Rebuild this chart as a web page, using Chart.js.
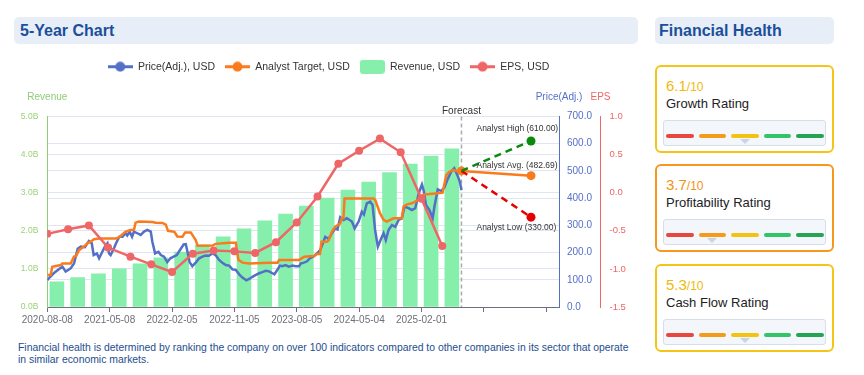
<!DOCTYPE html>
<html>
<head>
<meta charset="utf-8">
<script src="https://cdn.jsdelivr.net/npm/chart.js@4.4.1/dist/chart.umd.min.js"></script>
<style>
body{margin:0;width:864px;height:375px;background:#fff;position:relative;overflow:hidden;font-family:'Liberation Sans',Arial,sans-serif;}
.hdr{position:absolute;top:17px;height:27px;background:#e7eef7;border-radius:5px;color:#1b4f9c;font-weight:bold;font-size:16px;line-height:27px;box-sizing:border-box;}
#chartBox{position:absolute;left:0;top:50px;width:640px;height:290px;}
.note{position:absolute;left:18px;top:342px;font-size:10.4px;line-height:12px;color:#1d4d8f;white-space:nowrap;}
.card{position:absolute;left:655px;width:179px;height:88px;box-sizing:border-box;border:2px solid #f6c416;border-radius:6px;background:#fff;}
.score{position:absolute;left:9px;top:10px;font-size:15px;line-height:18px;}
.score small{font-size:12px;}
.name{position:absolute;left:9px;top:29px;font-size:13px;line-height:16px;color:#222;}
.meter{position:absolute;left:6px;top:53px;width:163px;height:26px;box-sizing:border-box;background:#f3f6fa;border:1px solid #d5deea;border-radius:3px;}
.seg{position:absolute;top:13px;width:27.5px;height:4px;border-radius:2px;}
.ptr{position:absolute;top:18px;width:0;height:0;border-left:5px solid transparent;border-right:5px solid transparent;border-top:5px solid #c9d4e5;}
</style>
</head>
<body>
<div class="hdr" style="left:14px;width:624px;padding-left:6px;">5-Year Chart</div>
<div class="hdr" style="left:655px;width:179px;padding-left:4px;">Financial Health</div>

<div id="chartBox"><canvas id="ct-chart" width="640" height="290"></canvas></div>

<div class="note">Financial health is determined by ranking the company on over 100 indicators compared to other companies in its sector that operate<br>in similar economic markets.</div>

<div class="card" style="top:65px;border-color:#f6c416;">
  <div class="score" style="color:#f0b90b;">6.1<small>/10</small></div>
  <div class="name">Growth Rating</div>
  <div class="meter">
    <div class="seg" style="left:2px;background:#e8473f"></div>
    <div class="seg" style="left:34.5px;background:#f39c1c"></div>
    <div class="seg" style="left:67px;background:#f2c313"></div>
    <div class="seg" style="left:99.5px;background:#33c46b"></div>
    <div class="seg" style="left:132px;background:#27a356"></div>
    <div class="ptr" style="left:75.5px"></div>
  </div>
</div>

<div class="card" style="top:164px;border-color:#f7981d;">
  <div class="score" style="color:#f39214;">3.7<small>/10</small></div>
  <div class="name">Profitability Rating</div>
  <div class="meter">
    <div class="seg" style="left:2px;background:#e8473f"></div>
    <div class="seg" style="left:34.5px;background:#f39c1c"></div>
    <div class="seg" style="left:67px;background:#f2c313"></div>
    <div class="seg" style="left:99.5px;background:#33c46b"></div>
    <div class="seg" style="left:132px;background:#27a356"></div>
    <div class="ptr" style="left:43px"></div>
  </div>
</div>

<div class="card" style="top:264px;border-color:#f6c416;">
  <div class="score" style="color:#f0b90b;">5.3<small>/10</small></div>
  <div class="name">Cash Flow Rating</div>
  <div class="meter">
    <div class="seg" style="left:2px;background:#e8473f"></div>
    <div class="seg" style="left:34.5px;background:#f39c1c"></div>
    <div class="seg" style="left:67px;background:#f2c313"></div>
    <div class="seg" style="left:99.5px;background:#33c46b"></div>
    <div class="seg" style="left:132px;background:#27a356"></div>
    <div class="ptr" style="left:75.5px"></div>
  </div>
</div>

<script>
// x values are weeks since 2020-08-08
const startDate = Date.UTC(2020, 7, 8);
const tickStep = 39;          // 39 weeks between labels
const lastLabelWeek = 234;    // 2025-02-01

// price (adj.), USD  [week, value]
const priceSeries = [
  [0,99],[2,112],[4,124],[6,133],[8,142],[9.5,148],[11.5,130],[13,136],[14.6,142],[16.7,160],
  [18,190],[19,214],[21,222],[23.5,220],[26,242],[27.8,234],[29,191],[31,197],[32.4,179],[34.4,203],
  [36,222],[37.6,234],[38.6,197],[39.6,191],[41.7,216],[43,234],[45,258],[47,258],[49,271],[50,263],
  [51.5,277],[53,258],[54.2,277],[56.3,271],[58.4,265],[60.5,277],[62.6,283],[64.7,277],[65.7,240],[67.4,197],
  [69.5,203],[71,191],[73,185],[75,165],[77,179],[79,185],[81,191],[83.4,213],[85.3,230],[86.6,231],
  [87.6,205],[89,165],[90.7,150],[92.8,163],[95,179],[97,185],[99,189],[101,188],[103.3,197],[105.3,190],
  [107.4,173],[109.5,163],[111.6,154],[113.7,152],[115.8,138],[117.9,136],[120,120],[122,108],[124.5,98],[126.5,104],
  [128.3,111],[130.4,118],[132.5,124],[134.5,128],[136.6,133],[138.7,131],[140.8,124],[142,120],[144,138],[145.5,152],
  [147,150],[149,154],[151,148],[153.3,152],[155.4,150],[157.5,150],[158.5,160],[160,162],[162.3,167],[164.4,180],
  [166.5,186],[168.6,197],[170.7,209],[172.7,240],[173.8,258],[176,250],[178,271],[180.1,289],[181.5,285],[183.2,330],
  [185.3,320],[187.3,326],[190.5,314],[192.2,289],[194.7,314],[196.7,350],[198,340],[199.8,381],[201.9,387],[203.4,375],
  [205,283],[206.7,222],[208.8,252],[210.3,271],[211.7,246],[213.4,283],[215.5,301],[217.6,295],[219.7,320],[221.7,326],
  [223.4,369],[225.9,363],[228,356],[230.1,363],[232.4,420],[234.3,450],[235.5,425],[236.8,375],[239,356],[241,326],
  [242.1,369],[244.2,432],[246.3,426],[248.4,440],[250.4,470],[252.6,497],[254.5,510],[256.6,482],[258,460],[259,430]
];

// analyst target, USD  [week, value]
const targetSeries = [
  [0,118],[2.1,118],[3.1,148],[8.4,154],[9.4,160],[14.6,160],[16.7,185],[18,187],[19.8,209],[22.9,222],
  [25,234],[27.1,240],[29.2,249],[32.4,252],[42.8,252],[44.9,256],[46.6,265],[49,277],[52.2,283],[54.2,284],
  [55.2,310],[57.4,314],[65.7,312],[67.8,310],[72,309],[74.1,303],[75.5,280],[79.5,276],[81.3,259],[84.5,258],
  [86.2,274],[89.7,274],[92.8,246],[94,225],[103.3,226],[105.3,232],[113.7,236],[117.9,236],[119.5,173],[122.1,163],
  [126.2,160],[138.7,163],[144,163],[145,173],[157.5,173],[160.7,185],[166.9,187],[168.6,195],[170.5,195],[171.5,240],
  [174.8,240],[176,245],[178,277],[180.1,295],[183.2,307],[184.2,326],[185.2,326],[185.9,399],[204,399],[205.1,393],
  [208.1,344],[210.3,320],[212.3,314],[214.4,320],[216.5,326],[221.7,326],[222.8,369],[224.9,377],[228,381],[230.1,387],
  [232.2,396],[234.7,412],[239,415],[244.1,418],[247.2,420],[249.5,485],[251.5,497],[253.6,503],[256.6,500],[259,500]
];

// revenue, billions USD (quarterly)
const revenueWeeks = [6,19,32,45,58,71,84,97,110,123,136,149,162,175,188,201,214,227,240,253];
const revenueValues = [0.66,0.77,0.87,1.0,1.13,1.29,1.44,1.63,1.84,2.05,2.26,2.44,2.65,2.86,3.07,3.28,3.53,3.75,3.96,4.15];

// EPS, USD (quarterly)
const epsWeeks = [0,13,26,38,52,65,78,91,104,117,130,143,156,169,182,195,208,221,234,247];
const epsValues = [-0.54,-0.48,-0.43,-0.72,-0.84,-0.94,-1.04,-0.80,-0.76,-0.77,-0.79,-0.65,-0.39,-0.05,0.38,0.55,0.71,0.53,-0.08,-0.70];

// forecast
const forecastWeeks = [259, 302.5];
const forecastStart = 500;
const analystHigh = 610.00;
const analystAvg = 482.69;
const analystLow = 330.00;

const C_PRICE = '#5470c6', C_TARGET = '#fa7a1e', C_REV = '#86efac', C_EPS = '#ee6666';

function weekLabel(w) {
  return new Date(startDate + w * 7 * 86400000).toISOString().slice(0, 10);
}
function pts(xs, ys) { return xs.map((x, i) => ({x: x, y: ys[i]})); }
function pairs(arr) { return arr.map(p => ({x: p[0], y: p[1]})); }

function lineIcon(color) {
  const c = document.createElement('canvas');
  c.width = 25; c.height = 11;
  const g = c.getContext('2d');
  g.strokeStyle = color; g.lineWidth = 3;
  g.beginPath(); g.moveTo(0, 5.5); g.lineTo(25, 5.5); g.stroke();
  g.fillStyle = color;
  g.beginPath(); g.arc(12.5, 5.5, 5, 0, Math.PI * 2); g.fill();
  return c;
}
function boxIcon(color) {
  const c = document.createElement('canvas');
  c.width = 25; c.height = 14;
  const g = c.getContext('2d');
  g.fillStyle = color;
  g.beginPath(); g.roundRect(0, 0, 25, 14, 3); g.fill();
  return c;
}
const icons = [lineIcon(C_PRICE), lineIcon(C_TARGET), boxIcon(C_REV), lineIcon(C_EPS)];

const overlay = {
  id: 'overlay',
  afterInit(chart) {
    const lg = chart.legend;
    const fit = lg.fit;
    lg.fit = function () { fit.call(this); this.height = 65; };
  },
  beforeDatasetsDraw(chart) {
    const ctx = chart.ctx, a = chart.chartArea;
    const x = chart.scales.x.getPixelForValue(forecastWeeks[0]);
    ctx.save();
    ctx.strokeStyle = '#aaaaaa'; ctx.lineWidth = 1.5; ctx.setLineDash([4, 3]);
    ctx.beginPath(); ctx.moveTo(x, a.top); ctx.lineTo(x, a.bottom); ctx.stroke();
    ctx.restore();
  },
  afterDraw(chart) {
    const ctx = chart.ctx, a = chart.chartArea, s = chart.scales;
    ctx.save();
    ctx.textBaseline = 'middle';
    ctx.textAlign = 'center';
    ctx.font = '10px "Liberation Sans", Arial, sans-serif';
    const ty = a.top - 19.5;
    ctx.fillStyle = '#91cc75'; ctx.fillText('Revenue', s.yRev.right, ty);
    ctx.fillStyle = C_PRICE; ctx.fillText('Price(Adj.)', s.yPrice.left, ty);
    ctx.fillStyle = C_EPS; ctx.fillText('EPS', s.yEps.left, ty);
    const fx = s.x.getPixelForValue(forecastWeeks[0]);
    ctx.fillStyle = '#333'; ctx.fillText('Forecast', fx, a.top - 5);
    ctx.textAlign = 'left';
    ctx.font = '8.5px "Liberation Sans", Arial, sans-serif';
    const tx = fx + 15;
    ctx.fillText('Analyst High (' + analystHigh.toFixed(2) + ')', tx, s.yPrice.getPixelForValue(analystHigh) - 12);
    ctx.fillText('Analyst Avg. (' + analystAvg.toFixed(2) + ')', tx, s.yPrice.getPixelForValue(analystAvg) - 10);
    ctx.fillText('Analyst Low (' + analystLow.toFixed(2) + ')', tx, s.yPrice.getPixelForValue(analystLow) + 10);
    ctx.restore();
  }
};

Chart.defaults.font.family = '"Liberation Sans", Arial, sans-serif';

new Chart(document.getElementById('ct-chart'), {
  data: {
    datasets: [
      { type: 'line', label: 'Price(Adj.), USD', data: pairs(priceSeries), yAxisID: 'yPrice',
        borderColor: C_PRICE, backgroundColor: C_PRICE, borderWidth: 2.5, pointRadius: 0, tension: 0, order: 3 },
      { type: 'line', label: 'Analyst Target, USD', data: pairs(targetSeries), yAxisID: 'yPrice',
        borderColor: C_TARGET, backgroundColor: C_TARGET, borderWidth: 2.5, pointRadius: 0, tension: 0, order: 2 },
      { type: 'bar', label: 'Revenue, USD', data: pts(revenueWeeks, revenueValues), yAxisID: 'yRev',
        backgroundColor: C_REV, borderWidth: 0, barThickness: 14, order: 5 },
      { type: 'line', label: 'EPS, USD', data: pts(epsWeeks, epsValues), yAxisID: 'yEps',
        borderColor: C_EPS, backgroundColor: C_EPS, borderWidth: 2.5, pointRadius: 4, pointBorderWidth: 0, tension: 0, order: 1 },
      { type: 'line', label: 'high', data: pts(forecastWeeks, [forecastStart, analystHigh]), yAxisID: 'yPrice',
        borderColor: '#0a8a0a', backgroundColor: '#0a8a0a', borderWidth: 2.5, borderDash: [7, 5],
        pointRadius: [0, 4.5], pointBorderWidth: 0, order: 0 },
      { type: 'line', label: 'low', data: pts(forecastWeeks, [forecastStart, analystLow]), yAxisID: 'yPrice',
        borderColor: '#e60000', backgroundColor: '#e60000', borderWidth: 2.5, borderDash: [7, 5],
        pointRadius: [0, 4.5], pointBorderWidth: 0, order: 0 },
      { type: 'line', label: 'avg', data: pts(forecastWeeks, [forecastStart, analystAvg]), yAxisID: 'yPrice',
        borderColor: C_TARGET, backgroundColor: C_TARGET, borderWidth: 2.5,
        pointRadius: 4.5, pointBorderWidth: 0, order: 0 }
    ]
  },
  options: {
    responsive: false,
    animation: false,
    devicePixelRatio: 1,
    layout: { padding: { top: 1.5, left: 17, right: 0, bottom: 13 } },
    plugins: {
      tooltip: { enabled: false },
      legend: {
        position: 'top',
        labels: {
          usePointStyle: true, pointStyleWidth: 25, padding: 10, color: '#333',
          font: { size: 10.5 },
          generateLabels(chart) {
            const items = Chart.defaults.plugins.legend.labels.generateLabels(chart);
            return items.filter(i => i.datasetIndex < 4)
              .sort((a, b) => a.datasetIndex - b.datasetIndex)
              .map(i => { i.pointStyle = icons[i.datasetIndex]; return i; });
          }
        }
      }
    },
    scales: {
      x: {
        type: 'linear', min: 0, max: 320, offset: false,
        afterFit(s) { s.height = 20; },
        ticks: { stepSize: tickStep, includeBounds: false, autoSkip: false, maxRotation: 0, padding: 2,
          color: '#6e7079', font: { size: 10 },
          callback: v => v <= lastLabelWeek ? weekLabel(v) : '' },
        grid: { display: true, offset: false, drawOnChartArea: false, drawTicks: true, tickLength: 5, color: '#6e7079' },
        border: { display: true, color: '#6e7079' }
      },
      yRev: {
        type: 'linear', position: 'left', min: 0, max: 5,
        afterFit(s) { s.width = 30.3; },
        ticks: { stepSize: 1, color: '#9bd17a', font: { size: 8.5 }, padding: 9, callback: v => v.toFixed(1) + 'B' },
        grid: { color: '#e0e6f1', drawTicks: false },
        border: { display: true, color: '#91cc75' }
      },
      yPrice: {
        type: 'linear', position: 'right', min: 0, max: 700,
        afterFit(s) { s.width = 41.5; },
        ticks: { stepSize: 100, color: C_PRICE, font: { size: 10 }, padding: 8, callback: v => v.toFixed(1) },
        grid: { color: '#e0e6f1', drawTicks: false },
        border: { display: true, color: C_PRICE }
      },
      yEps: {
        type: 'linear', position: 'right', min: -1.5, max: 1,
        afterFit(s) { s.width = 39.5; },
        ticks: { stepSize: 0.5, color: C_EPS, font: { size: 9.5 }, padding: 9, callback: v => v.toFixed(1) },
        grid: { drawOnChartArea: false, drawTicks: false },
        border: { display: true, color: C_EPS }
      }
    }
  },
  plugins: [overlay]
});
</script>
</body>
</html>
